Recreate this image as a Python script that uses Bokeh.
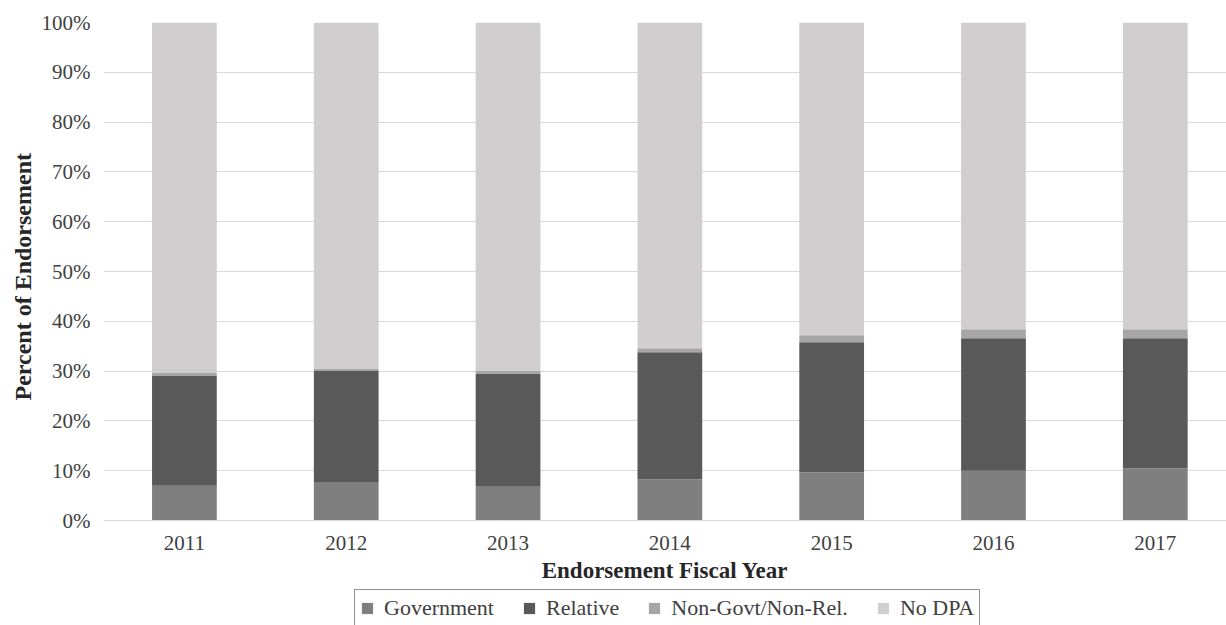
from bokeh.plotting import figure
from bokeh.models import (ColumnDataSource, Range1d, FixedTicker, NumeralTickFormatter,
                          Legend, LegendItem, Title)
from bokeh.embed import file_html
from bokeh.resources import INLINE

years = ["2011", "2012", "2013", "2014", "2015", "2016", "2017"]
series = ["Government", "Relative", "Non-Govt/Non-Rel.", "No DPA"]
government = [7.0, 7.6, 6.8, 8.3, 9.7, 10.0, 10.5]
relative = [22.0, 22.4, 22.6, 25.5, 26.1, 26.6, 26.1]
non_govt = [0.6, 0.4, 0.6, 0.8, 1.4, 1.8, 1.8]
no_dpa = [70.4, 69.6, 70.0, 65.4, 62.8, 61.6, 61.6]
colors = ["#7f7f7f", "#595959", "#a6a6a6", "#d0cece"]

xs = list(range(len(years)))
src = ColumnDataSource(dict(
    x=xs,
    Government=[v / 100 for v in government],
    Relative=[v / 100 for v in relative],
    NonGovt=[v / 100 for v in non_govt],
    NoDPA=[v / 100 for v in no_dpa],
))

FONT = "Liberation Serif"

# frame spans from the 100% line (y=22) to the bottom of the page (y=625);
# the 0% line sits 105 px above the frame bottom
p = figure(frame_width=1123, frame_height=603, output_backend="svg", toolbar_location=None,
           x_range=Range1d(-0.5, 6.44), y_range=Range1d(-105 / 498, 1),
           min_border_left=103, min_border_right=0, min_border_top=22,
           min_border_bottom=0)
p.outline_line_color = None
p.background_fill_color = "white"

renderers = p.vbar_stack(["Government", "Relative", "NonGovt", "NoDPA"], x="x",
                         width=0.4, source=src, color=colors, line_color=None)

p.xgrid.grid_line_color = None
p.ygrid.grid_line_color = "#d9d9d9"
p.ygrid.grid_line_width = 1

p.yaxis.ticker = FixedTicker(ticks=[i / 10 for i in range(11)])
p.yaxis.formatter = NumeralTickFormatter(format="0%")
p.yaxis.axis_line_color = None
p.yaxis.major_tick_line_color = None
p.yaxis.minor_tick_line_color = None
p.yaxis.major_label_standoff = 7

p.xaxis.fixed_location = 0
p.xaxis.ticker = FixedTicker(ticks=xs)
p.xaxis.major_label_overrides = {i: y for i, y in enumerate(years)}
p.xaxis.axis_line_color = "#d9d9d9"
p.xaxis.major_tick_line_color = None
p.xaxis.minor_tick_line_color = None
p.xaxis.major_label_standoff = 9
p.xaxis.axis_label = "Endorsement Fiscal Year"
p.xaxis.axis_label_standoff = 5

for ax in (p.xaxis, p.yaxis):
    ax.major_label_text_font = FONT
    ax.major_label_text_font_size = "21px"
    ax.major_label_text_color = "#404040"
    ax.axis_label_text_font = FONT
    ax.axis_label_text_font_size = "23px"
    ax.axis_label_text_font_style = "bold"
    ax.axis_label_text_color = "#262626"

ytitle = Title(text="Percent of  Endorsement", align="left", offset=225,
               vertical_align="middle", text_font=FONT, text_font_size="24px",
               text_font_style="bold", text_color="#262626", standoff=4)
p.add_layout(ytitle, "left")

legend = Legend(items=[LegendItem(label=s, renderers=[r]) for s, r in zip(series, renderers)],
                orientation="horizontal", location=(251, -2))
legend.label_text_font = FONT
legend.label_text_font_size = "22px"
legend.label_text_color = "#404040"
legend.glyph_width = 14
legend.glyph_height = 14
legend.label_standoff = 10
legend.spacing = 28
legend.padding = 5
legend.margin = 0
legend.border_line_color = "#222222"
legend.border_line_width = 1
legend.background_fill_color = "white"
p.add_layout(legend, "center")

open("out.html", "w").write(file_html(p, INLINE))
